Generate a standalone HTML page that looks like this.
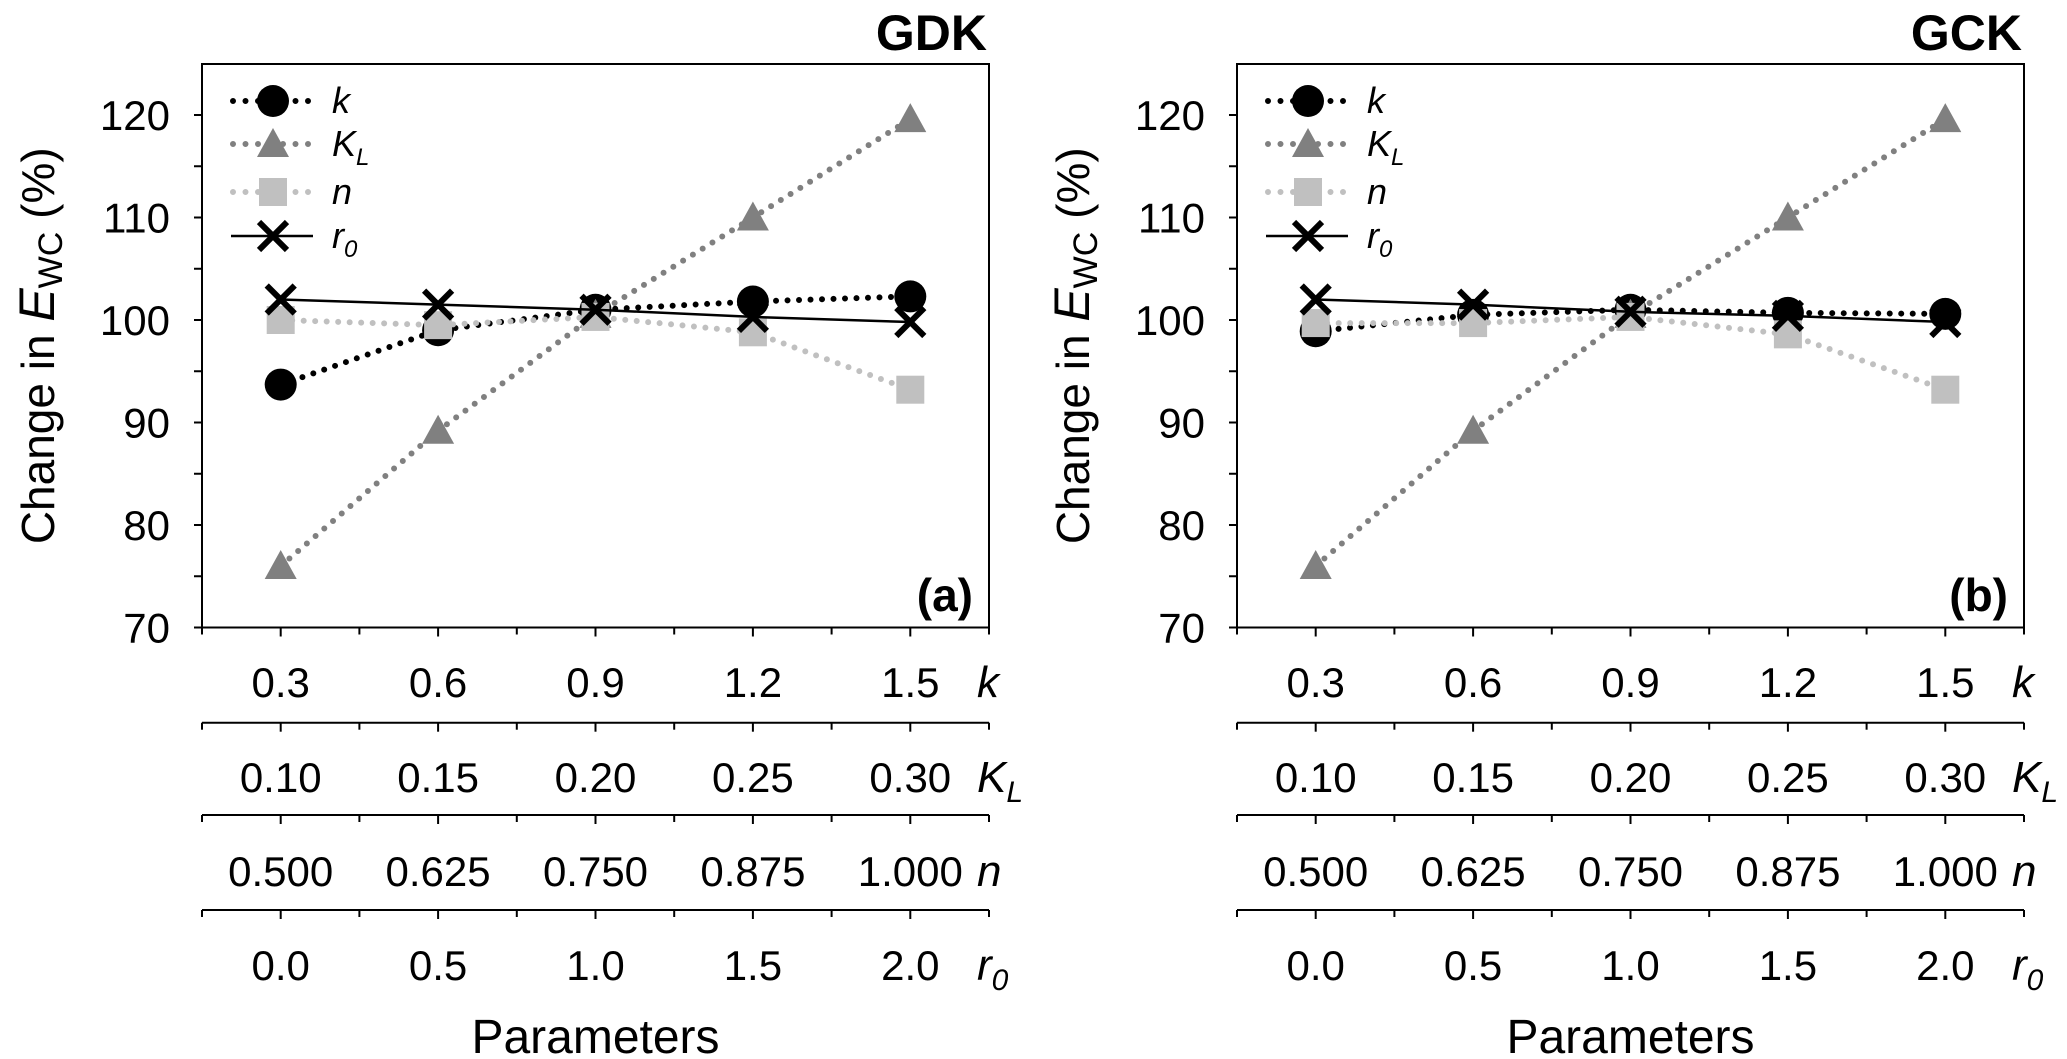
<!DOCTYPE html>
<html><head><meta charset="utf-8"><style>
html,body{margin:0;padding:0;background:#fff;}
svg{display:block;font-family:"Liberation Sans",sans-serif;}
</style></head><body>
<svg id="fig" width="2067" height="1059" viewBox="0 0 2067 1059" xmlns="http://www.w3.org/2000/svg"></svg>
<script>
const categoriesIndex = [0,1,2,3,4];
const kLabels = ["0.3","0.6","0.9","1.2","1.5"];
const klLabels = ["0.10","0.15","0.20","0.25","0.30"];
const nLabels = ["0.500","0.625","0.750","0.875","1.000"];
const r0Labels = ["0.0","0.5","1.0","1.5","2.0"];
const yTicks = [70,80,90,100,110,120];
const gdkK = [93.7,99.0,101.0,101.8,102.3];
const gdkKL = [76.0,89.2,100.5,110.0,119.6];
const gdkN = [100.0,99.5,100.3,98.8,93.2];
const gdkR0 = [102.0,101.5,101.0,100.3,99.8];
const gckK = [98.9,100.5,101.0,100.7,100.6];
const gckKL = [76.0,89.2,100.5,110.0,119.6];
const gckN = [99.7,99.7,100.3,98.6,93.2];
const gckR0 = [102.0,101.5,100.8,100.4,99.8];

const NS="http://www.w3.org/2000/svg";
const svg=document.getElementById('fig');
function el(tag,attrs,parent,text){const e=document.createElementNS(NS,tag);for(const k in attrs)e.setAttribute(k,attrs[k]);if(text!==undefined)e.textContent=text;(parent||svg).appendChild(e);return e;}

function panel(ox,title,letter,K,KL,N,R0,pname){
  const g=el('g',{});
  
  
  const L=ox+202,R=ox+989,T=64,B=627.5;
  const step=(R-L)/10;
  const xs=i=>L+step*(2*i+1);
  const ys=v=>B-(v-70)*(B-115)/50;
  // frame
  const fr=el('rect',{x:L,y:T,width:R-L,height:B-T,fill:'none',stroke:'#000','stroke-width':2},g);
  
  
  // y ticks
  for(let v=70;v<=120;v+=5){el('line',{x1:L-8,x2:L,y1:ys(v),y2:ys(v),stroke:'#000','stroke-width':2},g);}
  yTicks.forEach(v=>{const t=el('text',{x:L-32,y:ys(v)+15,'font-size':42,'text-anchor':'end'},g,String(v));
    
    });
  // y title
  const yt=el('text',{transform:`translate(${ox+54},${(T+B)/2}) rotate(-90)`,'font-size':46,'text-anchor':'middle'},g);
  
  
  el('tspan',{},yt,'Change in ');
  el('tspan',{'font-style':'italic','font-size':50},yt,'E');
  el('tspan',{'font-size':34,dy:8},yt,'WC');
  el('tspan',{dy:-8},yt,' (%)');
  // bottom axes rows
  const rules=[B,722.7,815,910];
  const rows=[[kLabels,697,'k',null],[klLabels,792,'K','L'],[nLabels,886,'n',null],[r0Labels,980,'r','0']];
  rules.forEach(ry=>{el('line',{x1:L,x2:R,y1:ry,y2:ry,stroke:'#000','stroke-width':2},g);
    for(let i=0;i<=10;i++){el('line',{x1:L+step*i,x2:L+step*i,y1:ry,y2:ry+(i%2?9:7),stroke:'#000','stroke-width':2},g);}});
  rows.forEach((r,ri)=>{
    r[0].forEach((lab,i)=>{const t=el('text',{x:xs(i),y:r[1],'font-size':42,'text-anchor':'middle'},g,lab);
      
      });
    const t=el('text',{x:ox+977,y:r[1],'font-size':44,'font-style':'italic'},g);
    
    
    el('tspan',{},t,r[2]);
    if(r[3])el('tspan',{'font-size':30,dy:10},t,r[3]);
  });
  const xt=el('text',{x:(L+R)/2,y:1053,'font-size':48,'text-anchor':'middle'},g,'Parameters');
  
  
  const tt=el('text',{x:R-2,y:50,'font-size':50,'font-weight':'bold','text-anchor':'end'},g,title);
  
  
  const lt=el('text',{x:R-16,y:611,'font-size':46,'font-weight':'bold','text-anchor':'end'},g,letter);
  
  

  function marker(type,cx,cy,parent){
    if(type==='circle')return el('circle',{cx:cx,cy:cy,r:16,fill:'#000'},parent);
    if(type==='tri')return el('polygon',{points:`${cx-16},${cy+13} ${cx+16},${cy+13} ${cx},${cy-16}`,fill:'#808080'},parent);
    if(type==='sq')return el('rect',{x:cx-14,y:cy-14,width:28,height:28,fill:'#c0c0c0'},parent);
    const p=el('g',{},parent);
    el('line',{x1:cx-14,y1:cy-14,x2:cx+14,y2:cy+14,stroke:'#000','stroke-width':6},p);
    el('line',{x1:cx-14,y1:cy+14,x2:cx+14,y2:cy-14,stroke:'#000','stroke-width':6},p);
    return p;
  }
  const series=[[K,'#000','circle',true,'series-k'],[KL,'#808080','tri',true,'series-kl'],[N,'#c0c0c0','sq',true,'series-n'],[R0,'#000','x',false,'series-r0']];
  series.forEach(s=>{
    const sg=el('g',{},g);
    
    
    const pts=categoriesIndex.map(i=>xs(i)+','+ys(s[0][i])).join(' ');
    const a=s[3]?{points:pts,fill:'none',stroke:s[1],'stroke-width':6,'stroke-linecap':'round','stroke-dasharray':'0 11.5'}:{points:pts,fill:'none',stroke:s[1],'stroke-width':2.5};
    el('polyline',a,sg);
    categoriesIndex.forEach(i=>{const m=marker(s[2],xs(i),ys(s[0][i]),sg);
      
      });
  });
  // legend
  const lg=el('g',{},g);
  
  
  const lrows=[[101,'#000','circle',true,'k',null],[144,'#808080','tri',true,'K','L'],[192,'#c0c0c0','sq',true,'n',null],[236,'#000','x',false,'r','0']];
  lrows.forEach(r=>{
    const eg=el('g',{},lg);
    
    
    const x0=ox+233,x1=ox+310,cx=ox+273;
    if(r[3])el('line',{x1:x0,x2:x1,y1:r[0],y2:r[0],stroke:r[1],'stroke-width':6,'stroke-linecap':'round','stroke-dasharray':'0 12.5'},eg);
    else el('line',{x1:x0-2,x2:x1+3,y1:r[0],y2:r[0],stroke:r[1],'stroke-width':2.5},eg);
    marker(r[2],cx,r[0],eg);
    const t=el('text',{x:ox+332,y:r[0]+12,'font-size':36,'font-style':'italic'},eg);
    el('tspan',{},t,r[4]);
    if(r[5])el('tspan',{'font-size':24,dy:9},t,r[5]);
  });
}
panel(0,'GDK','(a)',gdkK,gdkKL,gdkN,gdkR0,'panel-gdk');
panel(1035,'GCK','(b)',gckK,gckKL,gckN,gckR0,'panel-gck');
</script>
</body></html>
